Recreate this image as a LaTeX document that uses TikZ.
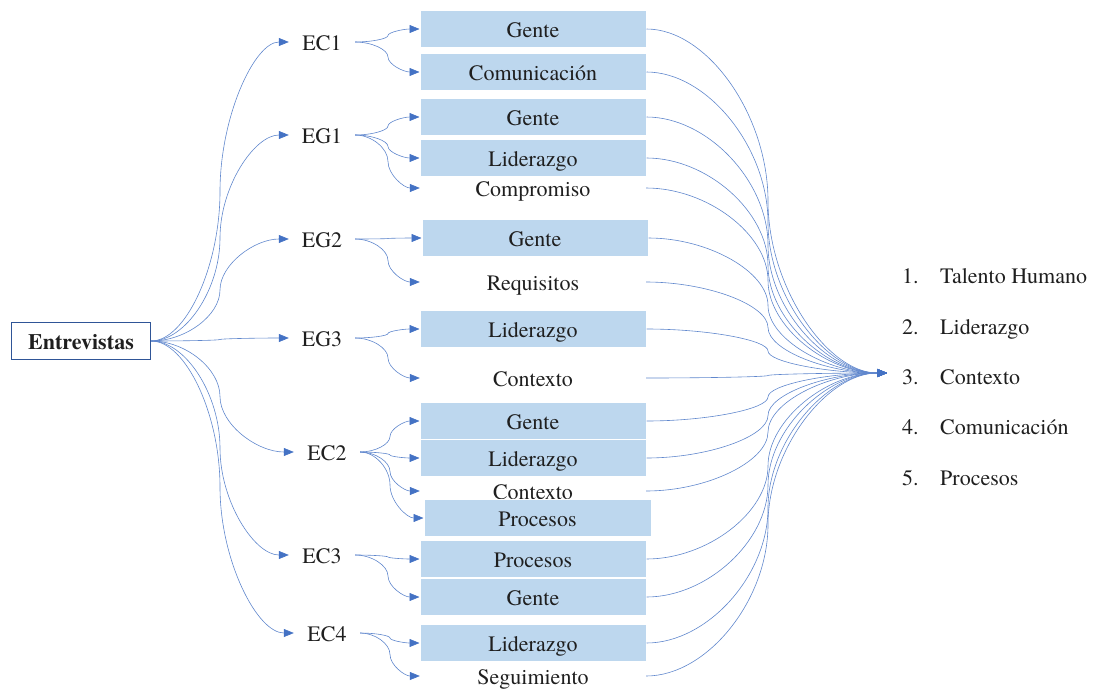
\documentclass[tikz,border=0pt]{standalone}
\usepackage{fontspec}
\setmainfont{texgyretermes}[Extension=.otf, UprightFont=*-regular, BoldFont=*-bold, ItalicFont=*-italic, BoldItalicFont=*-bolditalic]
\usetikzlibrary{arrows.meta, calc}
\definecolor{linkblue}{HTML}{4472C4}
\definecolor{boxblue}{HTML}{BDD7EE}
\definecolor{frameblue}{HTML}{2F5597}
\tikzset{
  txt/.style={inner sep=0pt, text height=16pt, text depth=0pt},
  box/.style={txt, rectangle, fill=boxblue, draw=white, line width=1pt, minimum width=226pt, minimum height=37pt},
  plain/.style={txt, rectangle, minimum width=226pt, minimum height=28pt},
  lab/.style={txt, minimum width=66pt},
  link/.style={draw=linkblue!85, line width=0.6pt, -{Triangle[length=10pt, width=8pt, color=linkblue]}},
  bend at/.style={to path={let \p1=(\tikztostart), \p2=(\tikztotarget) in
    .. controls ({(\x1+#1)/2}, \y1) and (#1, {\y1+(\y2-\y1)/4}) .. (#1, {(\y1+\y2)/2})
    .. controls (#1, {\y1+3*(\y2-\y1)/4}) and ({(#1+\x2)/2}, \y2) .. (\tikztotarget)}},
}

\begin{document}
\begin{tikzpicture}[x=1pt, y=-1pt, font=\fontsize{22}{26}\selectfont, text=black!88]
\useasboundingbox (0,0) rectangle (1097,688);
\draw
(81, 341) node[txt, draw=frameblue, line width=1.5pt, minimum width=139pt, minimum height=37pt](ent){\bfseries Entrevistas}

(322, 42) node[lab](ec1){EC1}
(322, 135) node[lab](eg1){EG1}
(322, 239) node[lab](eg2){EG2}
(322, 338) node[lab](eg3){EG3}
(327, 452) node[lab](ec2){EC2}
(322, 555) node[lab](ec3){EC3}
(327, 633) node[lab](ec4){EC4}

(533, 29) node[box](g1){Gente}
(533, 72) node[box](c1){Comunicación}
(533, 117) node[box](g2){Gente}
(533, 158) node[box](l1){Liderazgo}
(533, 188) node[plain](cp){Compromiso}
(535, 238) node[box](g3){Gente}
(533, 282) node[plain](rq){Requisitos}
(533, 329) node[box](l2){Liderazgo}
(533, 378) node[plain](cx1){Contexto}
(533, 421) node[box](g4){Gente}
(533, 458) node[box](l3){Liderazgo}
(533, 491) node[plain](cx2){Contexto}
(537.5, 518) node[box, minimum width=227pt](p1){Procesos}
(533, 559) node[box](p2){Procesos}
(533, 597) node[box](g5){Gente}
(533, 643) node[box](l4){Liderazgo}
(533, 676) node[plain](sg){Seguimiento}

(902, 275) node[txt, anchor=west](n1){1.}
(940, 275) node[txt, anchor=west](t1){Talento Humano}
(902, 326) node[txt, anchor=west](n2){2.}
(940, 326) node[txt, anchor=west](t2){Liderazgo}
(902, 376) node[txt, anchor=west](n3){3.}
(940, 376) node[txt, anchor=west](t3){Contexto}
(902, 426) node[txt, anchor=west](n4){4.}
(940, 426) node[txt, anchor=west](t4){Comunicación}
(902, 477) node[txt, anchor=west](n5){5.}
(940, 477) node[txt, anchor=west](t5){Procesos};

\coordinate (tip) at (887, 373);

\draw[link] (ent.east) to[bend at=220pt] (ec1.west);
\draw[link] (ent.east) to[bend at=220pt] (eg1.west);
\draw[link] (ent.east) to[bend at=220pt] (eg2.west);
\draw[link] (ent.east) to[bend at=220pt] (eg3.west);
\draw[link] (ent.east) to[bend at=220pt] (ec2.west);
\draw[link] (ent.east) to[bend at=220pt] (ec3.west);
\draw[link] (ent.east) to[bend at=220pt] (ec4.west);

\draw[link] (ec1.east) to[bend at=388pt] (g1.west);
\draw[link] (ec1.east) to[bend at=388pt] (c1.west);
\draw[link] (eg1.east) to[bend at=388pt] (g2.west);
\draw[link] (eg1.east) to[bend at=388pt] (l1.west);
\draw[link] (eg1.east) to[bend at=388pt] (cp.west);
\draw[link] (eg2.east) to[bend at=388pt] (g3.west);
\draw[link] (eg2.east) to[bend at=388pt] (rq.west);
\draw[link] (eg3.east) to[bend at=388pt] (l2.west);
\draw[link] (eg3.east) to[bend at=388pt] (cx1.west);
\draw[link] (ec2.east) to[bend at=390pt] (g4.west);
\draw[link] (ec2.east) to[bend at=390pt] (l3.west);
\draw[link] (ec2.east) to[bend at=390pt] (cx2.west);
\draw[link] (ec2.east) to[bend at=390pt] (p1.west);
\draw[link] (ec3.east) to[bend at=388pt] (p2.west);
\draw[link] (ec3.east) to[bend at=388pt] (g5.west);
\draw[link] (ec4.east) to[bend at=390pt] (l4.west);
\draw[link] (ec4.east) to[bend at=390pt] (sg.west);

\draw[link] (g1.east) to[bend at=768pt] (tip);
\draw[link] (c1.east) to[bend at=768pt] (tip);
\draw[link] (g2.east) to[bend at=768pt] (tip);
\draw[link] (l1.east) to[bend at=768pt] (tip);
\draw[link] (cp.east) to[bend at=768pt] (tip);
\draw[link] (g3.east) to[bend at=768pt] (tip);
\draw[link] (rq.east) to[bend at=768pt] (tip);
\draw[link] (l2.east) to[bend at=768pt] (tip);
\draw[link] (cx1.east) to[bend at=768pt] (tip);
\draw[link] (g4.east) to[bend at=768pt] (tip);
\draw[link] (l3.east) to[bend at=768pt] (tip);
\draw[link] (cx2.east) to[bend at=768pt] (tip);
\draw[link] (p2.east) to[bend at=768pt] (tip);
\draw[link] (g5.east) to[bend at=768pt] (tip);
\draw[link] (l4.east) to[bend at=768pt] (tip);
\draw[link] (sg.east) to[bend at=768pt] (tip);

\end{tikzpicture}
\end{document}
